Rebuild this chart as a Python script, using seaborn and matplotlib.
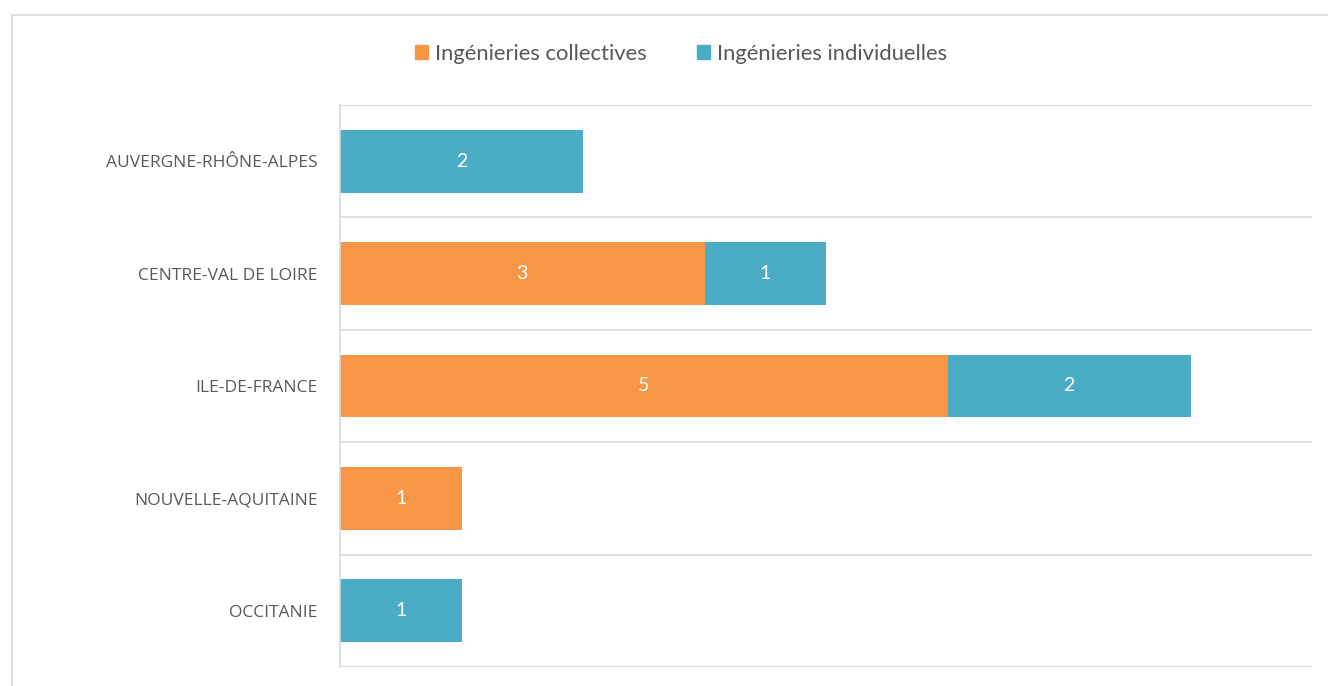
import matplotlib
matplotlib.use("Agg")
import matplotlib.pyplot as plt
import matplotlib.patches as mpatches
import matplotlib.lines as mlines
import seaborn as sns
import pandas as pd

regions = ["AUVERGNE-RHÔNE-ALPES", "CENTRE-VAL DE LOIRE", "ILE-DE-FRANCE",
           "NOUVELLE-AQUITAINE", "OCCITANIE"]
collectives = [0, 3, 5, 1, 0]
individuelles = [2, 1, 2, 0, 1]
series_names = ["Ingénieries collectives", "Ingénieries individuelles"]
colors = ["#F79646", "#4BACC6"]

sns.set_theme(style="white")
plt.rcParams["font.family"] = ["Lato", "DejaVu Sans"]

df = pd.DataFrame({"region": regions, "coll": collectives, "ind": individuelles})
df["total"] = df["coll"] + df["ind"]

fig = plt.figure(figsize=(13.28, 6.86), dpi=100)
ax = fig.add_axes([340/1328, 1-667/686, (1312-340)/1328, (667-105)/686])

sns.barplot(data=df, y="region", x="total", color=colors[1], orient="h",
            width=0.56, ax=ax, saturation=1, linewidth=0)
sns.barplot(data=df, y="region", x="coll", color=colors[0], orient="h",
            width=0.56, ax=ax, saturation=1, linewidth=0)

for i, (c, d) in enumerate(zip(collectives, individuelles)):
    if c:
        ax.text(c/2, i, str(c), ha="center", va="center", color="white", fontsize=14)
    if d:
        ax.text(c + d/2, i, str(d), ha="center", va="center", color="white", fontsize=14)

ax.set_xlim(0, 8)
ax.set_ylim(len(regions)-0.5, -0.5)
ax.set_xlabel("")
ax.set_ylabel("")
ax.set_xticks([])
ax.set_yticks(range(len(regions)))
ax.set_yticklabels(regions, color="#595959", fontsize=12.5,
                   family=["Open Sans", "DejaVu Sans"])
ax.tick_params(axis="y", length=0, pad=16)
ax.set_yticks([i - 0.5 for i in range(len(regions)+1)], minor=True)
ax.tick_params(axis="y", which="minor", length=0)
ax.grid(True, which="minor", axis="y", color="#D9D9D9", linewidth=1.2)
ax.set_axisbelow(True)
for s in ["top", "right", "bottom"]:
    ax.spines[s].set_visible(False)
ax.spines["left"].set_color("#D9D9D9")
ax.spines["left"].set_linewidth(1.2)

# figure frame
fig.add_artist(mlines.Line2D([11.5/1328, 1], [1-14.5/686, 1-14.5/686],
                             transform=fig.transFigure, color="#D9D9D9", linewidth=1.2))
fig.add_artist(mlines.Line2D([11.5/1328, 11.5/1328], [0, 1-14.5/686],
                             transform=fig.transFigure, color="#D9D9D9", linewidth=1.2))

handles = [mpatches.Patch(color=colors[0], label=series_names[0]),
           mpatches.Patch(color=colors[1], label=series_names[1])]
leg = fig.legend(handles=handles, loc="center", bbox_to_anchor=(681/1328, 1-54/686),
                 ncol=2, frameon=False, fontsize=15.8, handlelength=0.6, handleheight=0.6,
                 handletextpad=0.3, columnspacing=2.3)
for t in leg.get_texts():
    t.set_color("#595959")

fig.savefig("out.png", dpi=100)
